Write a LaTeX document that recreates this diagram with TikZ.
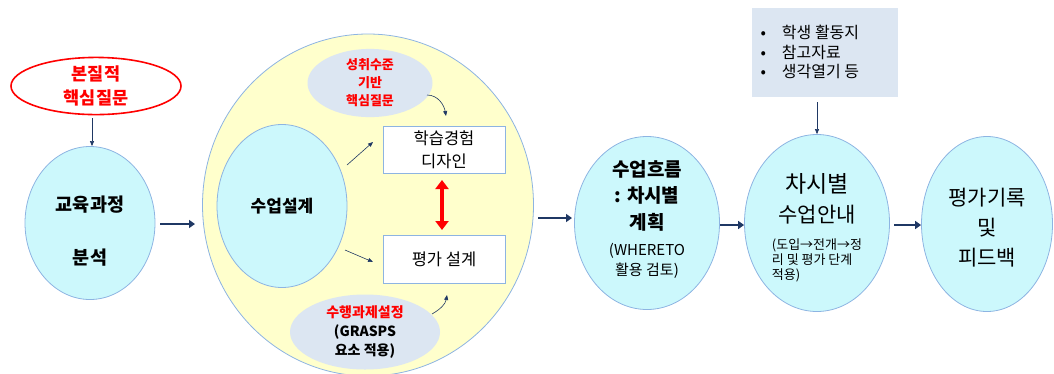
\documentclass[tikz,border=0pt]{standalone}
\usepackage{fontspec}
\setmainfont{Noto Sans CJK KR}
\usetikzlibrary{shapes.geometric,arrows.meta}
\definecolor{cyanfill}{HTML}{CCF8FC}
\definecolor{edgeblue}{HTML}{8DB4E2}
\definecolor{yellowfill}{HTML}{FFFFCC}
\definecolor{grayblue}{HTML}{DCE6F2}
\definecolor{navy}{HTML}{1F3864}
\definecolor{redtxt}{HTML}{FF0000}
\newcommand{\smwhere}{\fontsize{15}{20}\selectfont\mdseries}
\newcommand{\smguide}{\fontsize{13}{15}\selectfont}
\newcommand{\ctab}[1]{\begin{tabular}{@{}c@{}}#1\end{tabular}}
\newcommand{\ltab}[1]{\begin{tabular}{@{}l@{}}#1\end{tabular}}
\tikzset{
  oval/.style={ellipse, draw=edgeblue, line width=0.8pt, fill=cyanfill, inner sep=0pt, align=center},
  subov/.style={ellipse, fill=grayblue, inner sep=0pt, align=center},
  txt/.style={inner sep=0pt, align=center},
  whitebox/.style={rectangle, draw=edgeblue, line width=0.8pt, fill=white, inner sep=0pt, align=center},
  thin/.style={draw=navy, line width=0.6pt, -{Triangle[length=5pt,width=4pt]}},
  thick/.style={draw=navy, line width=2.6pt, -{Triangle[length=6pt,width=8pt]}},
}
\begin{document}
\begin{tikzpicture}[x=1pt,y=-1pt]
\useasboundingbox (0,0) rectangle (1054,373);
% red ellipse
\node[ellipse, draw=redtxt, line width=1.6pt, fill=white, minimum width=170pt, minimum height=56pt, inner sep=0pt, align=center,
  font={\fontsize{17.5}{24}\selectfont\bfseries}, text=redtxt] (q) at (96,86) {본질적\\핵심질문};
\node[oval, minimum width=130pt, minimum height=153pt] (a) at (90,223) {};
\node[txt, font={\fontsize{18.5}{26}\selectfont\bfseries}] (at) at (90,231) {교육과정\\[27pt]분석};
\draw[thin] (q.south) ++(-4,3) coordinate (qs) -- (qs |- a.north);
% big yellow circle
\node[ellipse, draw=edgeblue, line width=0.8pt, fill=yellowfill, minimum width=331pt, minimum height=342pt, inner sep=0pt] (y) at (368,205) {};
\node[oval, minimum width=130pt, minimum height=163pt, font={\fontsize{17}{20}\selectfont\bfseries}] (d) at (282,206) {수업설계};
\node[subov, minimum width=125pt, minimum height=61pt, font={\fontsize{13}{18}\selectfont\bfseries}, text=redtxt] (s) at (370,83) {성취수준\\기반\\핵심질문};
\node[subov, minimum width=150pt, minimum height=75pt, font={\fontsize{14}{19}\selectfont\bfseries}] (g) at (365,332) {\textcolor{redtxt}{수행과제설정}\\(GRASPS\\요소 적용)};
\node[whitebox, minimum width=122pt, minimum height=47pt, font={\fontsize{16.5}{23}\selectfont}] (b1) at (444,149.5) {학습경험\\디자인};
\node[whitebox, minimum width=122pt, minimum height=48pt, font={\fontsize{16.5}{20}\selectfont}] (b2) at (444,259) {평가 설계};
\draw[draw=redtxt, line width=4pt, {Triangle[length=9pt,width=13pt]}-{Triangle[length=9pt,width=13pt]}] (442,180) -- (442,230);
\coordinate (d1) at (347,165);
\coordinate (d2) at (345,250);
\draw[thin] (d1) -- (373,142);
\draw[thin] (d2) -- (373,262);
\coordinate (s1) at (427,95);
\draw[thin] (s1) to[out=0,in=100] (446,116);
\coordinate (g1) at (432,314);
\draw[thin] (g1) to[out=30,in=-100] (447,295);
% flow
\node[oval, minimum width=145pt, minimum height=173pt] (c) at (647,223) {};
\node[txt, font={\fontsize{19}{26.5}\selectfont\bfseries}] (ct) at (647,221)
  {수업흐름\\: 차시별\\계획\\[10pt]\smwhere\ctab{(WHERETO\\활용 검토)}};
\node[oval, minimum width=145pt, minimum height=177pt] (e) at (817,223) {};
\node[txt, font={\fontsize{21}{30}\selectfont}] (et) at (817,229)
  {{\fontsize{23}{30}\selectfont 차시별}\\수업안내\\[12pt]\smguide\ltab{(도입→전개→정\\리 및 평가 단계\\적용)}};
\node[oval, minimum width=131pt, minimum height=175pt] (f) at (987,224) {};
\node[txt, font={\fontsize{21}{30}\selectfont}] (ft) at (987,228) {평가기록\\및\\피드백};
\node[rectangle, fill=grayblue, minimum width=146pt, minimum height=89pt, inner sep=0pt] (r) at (825,52.5) {};
\node[anchor=west, align=left, font={\fontsize{16}{19.5}\selectfont}] (rt) at (757,52) {•\hspace{16pt}학생 활동지\\•\hspace{16pt}참고자료\\•\hspace{16pt}생각열기 등};
\draw[thin] (r.south -| e.north) ++(0,5) coordinate (rs) -- (e.north);
\coordinate (a1) at (160,224);
\coordinate (a2) at (195,224);
\draw[thick] (a1) -- (a2);
\coordinate (y1) at (538,218);
\coordinate (y2) at (572,218);
\draw[thick] (y1) -- (y2);
\coordinate (c1) at (720,225);
\draw[thick] (c1) -- (e.west |- c1);
\coordinate (e1) at (894,225);
\draw[thick] (e1) -- (f.west |- e1);
\end{tikzpicture}
\end{document}
